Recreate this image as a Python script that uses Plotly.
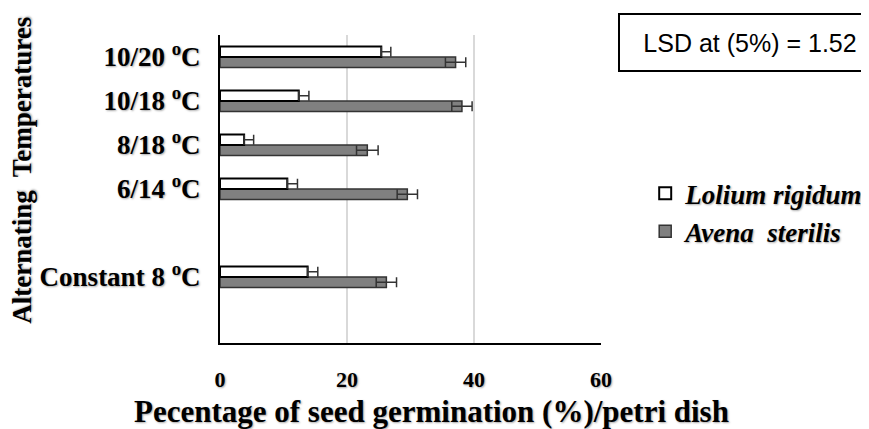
import plotly.graph_objects as go

categories = ["10/20 <sup>o</sup>C", "10/18 <sup>o</sup>C", "8/18 <sup>o</sup>C",
              "6/14 <sup>o</sup>C", "Constant 8 <sup>o</sup>C"]
lolium = [25.4, 12.4, 3.8, 10.6, 13.8]
lolium_err = [1.5, 1.6, 1.5, 1.6, 1.6]
avena = [37.1, 38.1, 23.2, 29.5, 26.2]
avena_err = [1.6, 1.6, 1.7, 1.6, 1.6]
# axis order (bottom to top), with empty slots as in the original
axis_order = [" ", "Constant 8 <sup>o</sup>C", "  ", "6/14 <sup>o</sup>C",
              "8/18 <sup>o</sup>C", "10/18 <sup>o</sup>C", "10/20 <sup>o</sup>C"]
x_ticks = [0, 20, 40, 60]
x_title = "Pecentage of seed germination (%)/petri dish"
y_title = "Alternating  Temperatures"
lsd_text = "LSD at (5%) = 1.52"

serif = "Liberation Serif"
shadow = "1px 1px 2px rgba(0,0,0,0.35)"

fig = go.Figure()
fig.add_trace(go.Bar(
    y=categories, x=avena, orientation="h", name="<i>Avena  sterilis</i>",
    legendgroup="a",
    marker=dict(color="#808080", line=dict(color="#333333", width=1.5)),
    error_x=dict(type="data", array=avena_err, color="#333333", thickness=1.5, width=5),
))
fig.add_trace(go.Bar(
    y=categories, x=lolium, orientation="h", name="<i>Lolium rigidum</i>",
    legendgroup="l",
    marker=dict(color="white", line=dict(color="black", width=2)),
    error_x=dict(type="data", array=lolium_err, arrayminus=[0]*len(lolium),
                 color="#333333", thickness=1.5, width=5),
))

# the page body adds an 8px offset, so margins are shifted accordingly
fig.update_layout(
    width=869, height=429,
    margin=dict(l=212, r=276, t=27, b=94, autoexpand=False),
    paper_bgcolor="white", plot_bgcolor="white",
    barmode="group", bargap=0.52, bargroupgap=0,
    showlegend=True,
    legend=dict(x=1.116, y=0.423, xanchor="left", yanchor="middle",
                traceorder="reversed", tracegroupgap=16,
                font=dict(family=serif, size=27, color="black", weight="bold",
                          shadow=shadow),
                itemwidth=30),
    font=dict(family=serif, color="black"),
)
fig.update_xaxes(
    range=[0, 60], tickvals=x_ticks, showgrid=True, gridcolor="#d9d9d9", gridwidth=2,
    showline=True, linecolor="black", linewidth=2, zeroline=False, automargin=False,
    tickfont=dict(family=serif, size=22, color="black", weight="bold", shadow=shadow),
    ticklabelstandoff=16,
)
fig.update_yaxes(
    type="category", categoryorder="array", categoryarray=axis_order,
    range=[-0.5, 6.5], automargin=False,
    showline=True, linecolor="black", linewidth=2, showgrid=False,
    tickfont=dict(family=serif, size=27, color="black", weight="bold", shadow=shadow),
    ticklabelstandoff=12,
)
fig.add_annotation(
    xref="paper", yref="paper", x=0.556, y=-0.222, xanchor="center", yanchor="middle",
    text=x_title, showarrow=False,
    font=dict(family=serif, size=31, color="black", weight="bold", shadow=shadow),
)
fig.add_annotation(
    xref="paper", yref="paper", x=-0.52, y=0.562, xanchor="center", yanchor="middle",
    text=y_title, showarrow=False, textangle=-90,
    font=dict(family=serif, size=27, color="black", weight="bold", shadow=shadow),
)
fig.add_annotation(
    xref="paper", yref="paper", x=1.391, y=0.976, xanchor="center", yanchor="middle",
    text=lsd_text, showarrow=False, width=236, height=31,
    font=dict(family="Liberation Sans", size=25, color="black"),
    bordercolor="black", borderwidth=2, borderpad=12, bgcolor="white",
)
fig.write_html("out.html")
